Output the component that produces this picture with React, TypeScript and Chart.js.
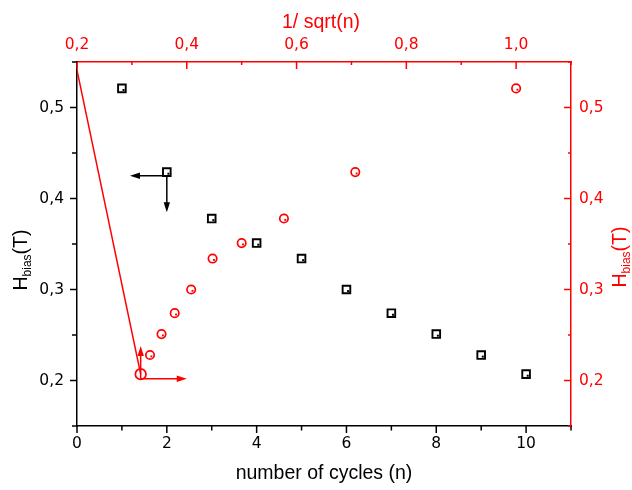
import { useEffect, useRef } from 'react';
import { Chart, registerables } from 'chart.js';

Chart.register(...registerables);

// ---- data ----
const cycles = [1, 2, 3, 4, 5, 6, 7, 8, 9, 10];
const invSqrtN = [1.0, 0.707, 0.577, 0.5, 0.447, 0.408, 0.378, 0.354, 0.333, 0.316];
const hBias = [0.521, 0.429, 0.378, 0.351, 0.334, 0.3, 0.274, 0.251, 0.228, 0.207];

// red guide line (top axis x, left axis y)
const guideX = [0.2, 0.316];
const guideY = [0.541, 0.207];

// arrows [x0, y0, x1, y1] in data units
const blackArrows = [
  [2.0, 0.425, 1.18, 0.425],
  [2.0, 0.425, 2.0, 0.385],
];
const redArrows = [
  [0.316, 0.202, 0.4, 0.202],
  [0.316, 0.202, 0.316, 0.238],
];

// tick labels
const bottomTickLabels = [0, 2, 4, 6, 8, 10];
const topTickLabels = [0.2, 0.4, 0.6, 0.8, 1.0];
const yTickLabels = [0.2, 0.3, 0.4, 0.5];

const RED = '#ff0000';
const BLACK = '#000000';
const TICK_FONT = { family: '"DejaVu Sans", sans-serif', size: 15.5 };
const TITLE_FAMILY = '"Liberation Sans", Arial, sans-serif';

const isIn = (arr: number[], v: number) => arr.some((m) => Math.abs(m - v) < 1e-6);
const comma = (v: number) => v.toFixed(1).replace('.', ',');

function drawArrow(ctx: CanvasRenderingContext2D, x0: number, y0: number, x1: number, y1: number, color: string) {
  const ang = Math.atan2(y1 - y0, x1 - x0);
  const hl = 10;
  const hw = 3.2;
  ctx.save();
  ctx.strokeStyle = color;
  ctx.fillStyle = color;
  ctx.lineWidth = 1.5;
  ctx.beginPath();
  ctx.moveTo(x0, y0);
  ctx.lineTo(x1 - Math.cos(ang) * hl * 0.8, y1 - Math.sin(ang) * hl * 0.8);
  ctx.stroke();
  ctx.beginPath();
  ctx.moveTo(x1, y1);
  ctx.lineTo(x1 - Math.cos(ang) * hl - Math.sin(ang) * hw, y1 - Math.sin(ang) * hl + Math.cos(ang) * hw);
  ctx.lineTo(x1 - Math.cos(ang) * hl + Math.sin(ang) * hw, y1 - Math.sin(ang) * hl - Math.cos(ang) * hw);
  ctx.closePath();
  ctx.fill();
  ctx.restore();
}

function drawHbias(ctx: CanvasRenderingContext2D, cx: number, cy: number, color: string) {
  ctx.save();
  ctx.translate(cx, cy);
  ctx.rotate(-Math.PI / 2);
  ctx.fillStyle = color;
  ctx.textBaseline = 'alphabetic';
  ctx.textAlign = 'left';
  const big = `19.5px ${TITLE_FAMILY}`;
  const small = `12px ${TITLE_FAMILY}`;
  ctx.font = big;
  const w1 = ctx.measureText('H').width;
  const w3 = ctx.measureText('(T)').width;
  ctx.font = small;
  const w2 = ctx.measureText('bias').width;
  const total = w1 + w2 + w3;
  let x = -total / 2;
  const b = 7;
  ctx.font = big;
  ctx.fillText('H', x, b);
  x += w1;
  ctx.font = small;
  ctx.fillText('bias', x, b + 4);
  x += w2;
  ctx.font = big;
  ctx.fillText('(T)', x, b);
  ctx.restore();
}

const decorPlugin = {
  id: 'decor',
  afterDatasetsDraw(chart: any) {
    const ctx: CanvasRenderingContext2D = chart.ctx;
    const { x, y, x2, y2 } = chart.scales;
    // center dots in markers
    const sq = chart.getDatasetMeta(0);
    ctx.save();
    ctx.fillStyle = BLACK;
    sq.data.forEach((el: any) => ctx.fillRect(el.x + 0.6, el.y + 0.6, 2, 2));
    const ci = chart.getDatasetMeta(1);
    ctx.fillStyle = RED;
    ci.data.forEach((el: any, i: number) => {
      if (i !== ci.data.length - 1) ctx.fillRect(el.x + 0.4, el.y + 0.4, 1.9, 1.9);
    });
    ctx.restore();
    blackArrows.forEach((a) =>
      drawArrow(ctx, x.getPixelForValue(a[0]), y.getPixelForValue(a[1]), x.getPixelForValue(a[2]), y.getPixelForValue(a[3]), BLACK)
    );
    redArrows.forEach((a) =>
      drawArrow(ctx, x2.getPixelForValue(a[0]), y2.getPixelForValue(a[1]), x2.getPixelForValue(a[2]), y2.getPixelForValue(a[3]), RED)
    );
  },
  afterDraw(chart: any) {
    const ctx: CanvasRenderingContext2D = chart.ctx;
    const ca = chart.chartArea;
    const specs = [
      { id: 'x', color: BLACK, horiz: true, edge: ca.bottom, dir: 1, major: 7, minor: 4.5, labels: bottomTickLabels },
      { id: 'x2', color: RED, horiz: true, edge: ca.top, dir: 1, major: 7, minor: 3, labels: topTickLabels },
      { id: 'y', color: BLACK, horiz: false, edge: ca.left, dir: -1, major: 7, minor: 5, labels: yTickLabels },
      { id: 'y2', color: RED, horiz: false, edge: ca.right, dir: -1, major: 7, minor: 3, labels: yTickLabels },
    ];
    ctx.save();
    ctx.lineWidth = 1.5;
    specs.forEach((s) => {
      const sc = chart.scales[s.id];
      ctx.strokeStyle = s.color;
      sc.ticks.forEach((t: any) => {
        const p = sc.getPixelForValue(t.value);
        const len = isIn(s.labels, t.value) ? s.major : s.minor;
        ctx.beginPath();
        if (s.horiz) {
          ctx.moveTo(p, s.edge);
          ctx.lineTo(p, s.edge + s.dir * len);
        } else {
          ctx.moveTo(s.edge, p);
          ctx.lineTo(s.edge + s.dir * len, p);
        }
        ctx.stroke();
      });
    });
    ctx.restore();

    // axis titles
    ctx.save();
    ctx.textAlign = 'center';
    ctx.textBaseline = 'alphabetic';
    ctx.font = `19.5px ${TITLE_FAMILY}`;
    const midX = (ca.left + ca.right) / 2;
    ctx.fillStyle = RED;
    ctx.fillText('1/ sqrt(n)', midX - 3, 27.5);
    ctx.fillStyle = BLACK;
    ctx.fillText('number of cycles (n)', midX, 479);
    ctx.restore();
    drawHbias(ctx, 19.7, 260, BLACK);
    drawHbias(ctx, 618.5, 257, RED);
  },
};

export default function App() {
  const ref = useRef<HTMLCanvasElement | null>(null);

  useEffect(() => {
    if (!ref.current) return;
    const chart = new Chart(ref.current, {
      type: 'scatter',
      data: {
        datasets: [
          {
            label: 'H_bias vs n',
            data: cycles.map((n, i) => ({ x: n, y: hBias[i] })),
            xAxisID: 'x',
            yAxisID: 'y',
            pointStyle: 'rect',
            pointRadius: 5.4,
            borderColor: BLACK,
            backgroundColor: '#ffffff',
            borderWidth: 1.9,
            order: 1,
          },
          {
            label: 'H_bias vs 1/sqrt(n)',
            data: invSqrtN.map((v, i) => ({ x: v, y: hBias[i] })),
            xAxisID: 'x2',
            yAxisID: 'y2',
            pointStyle: 'circle',
            pointRadius: (c: any) => (c.dataIndex === invSqrtN.length - 1 ? 5.3 : 4.2),
            borderColor: RED,
            backgroundColor: 'rgba(255,255,255,0)',
            borderWidth: 1.7,
            order: 2,
          },
          {
            type: 'line',
            label: 'guide',
            data: guideX.map((v, i) => ({ x: v, y: guideY[i] })),
            xAxisID: 'x2',
            yAxisID: 'y',
            borderColor: RED,
            borderWidth: 1.5,
            pointRadius: 0,
            showLine: true,
            fill: false,
            order: 3,
          } as any,
        ],
      },
      options: {
        responsive: false,
        animation: false,
        events: [],
        layout: { padding: 0 },
        plugins: { legend: { display: false }, tooltip: { enabled: false }, title: { display: false } },
        scales: {
          x: {
            type: 'linear',
            position: 'bottom',
            min: 0,
            max: 11,
            grid: { display: false, drawTicks: false },
            border: { display: true, color: BLACK, width: 1.5 },
            ticks: {
              stepSize: 1,
              autoSkip: false,
              maxRotation: 0,
              padding: 9,
              color: BLACK,
              font: TICK_FONT,
              callback: (v: any) => (isIn(bottomTickLabels, Number(v)) ? String(Math.round(Number(v))) : ''),
            },
            afterFit: (s: any) => {
              s.height = 64;
            },
          },
          x2: {
            type: 'linear',
            position: 'top',
            min: 0.2,
            max: 1.1,
            grid: { display: false, drawTicks: false },
            border: { display: true, color: RED, width: 1.5 },
            ticks: {
              stepSize: 0.1,
              autoSkip: false,
              maxRotation: 0,
              padding: 8,
              color: RED,
              font: TICK_FONT,
              callback: (v: any) => (isIn(topTickLabels, Number(v)) ? comma(Number(v)) : ''),
            },
            afterFit: (s: any) => {
              s.height = 62;
            },
          },
          y: {
            type: 'linear',
            position: 'left',
            min: 0.15,
            max: 0.55,
            grid: { display: false, drawTicks: false },
            border: { display: true, color: BLACK, width: 1.5 },
            ticks: {
              stepSize: 0.05,
              autoSkip: false,
              padding: 13,
              color: BLACK,
              font: TICK_FONT,
              callback: (v: any) => (isIn(yTickLabels, Number(v)) ? comma(Number(v)) : ''),
            },
            afterFit: (s: any) => {
              s.width = 77;
            },
          },
          y2: {
            type: 'linear',
            position: 'right',
            min: 0.15,
            max: 0.55,
            grid: { display: false, drawTicks: false },
            border: { display: true, color: RED, width: 1.5 },
            ticks: {
              stepSize: 0.05,
              autoSkip: false,
              padding: 8,
              color: RED,
              font: TICK_FONT,
              callback: (v: any) => (isIn(yTickLabels, Number(v)) ? comma(Number(v)) : ''),
            },
            afterFit: (s: any) => {
              s.width = 61;
            },
          },
        },
      } as any,
      plugins: [decorPlugin],
    });
    return () => chart.destroy();
  }, []);

  return (
    <div style={{ position: 'fixed', left: 0, top: 0, width: 632, height: 490, background: '#ffffff' }}>
      <canvas ref={ref} width={632} height={490} style={{ width: 632, height: 490, display: 'block' }} />
    </div>
  );
}
